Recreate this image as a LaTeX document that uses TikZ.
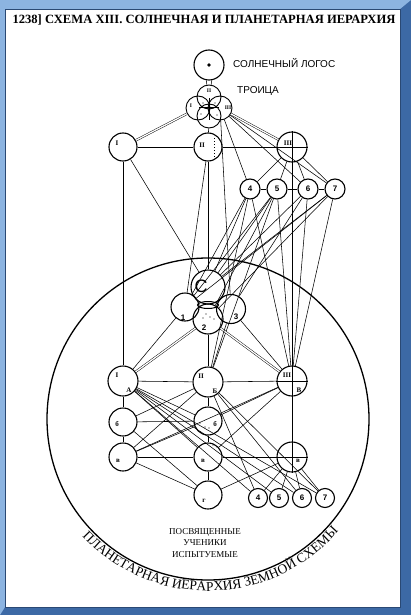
\documentclass[tikz,border=0pt]{standalone}
\usepackage{fontspec}
\setmainfont{Liberation Serif}
\setsansfont{Liberation Sans}
\usetikzlibrary{decorations.text}

\definecolor{ramadeschis}{RGB}{140,180,225}
\definecolor{ramainchis}{RGB}{60,105,165}

\tikzset{
  cerc/.style={circle,draw,line width=1.1pt,inner sep=0pt,minimum size=#1},
  leg/.style={line width=0.55pt},
  dublu/.style={double,double distance=1.3pt,line width=0.45pt},
  et/.style={font=\bfseries\fontsize{7}{8}\selectfont,inner sep=0pt},
  cif/.style={font=\sffamily\bfseries\fontsize{8}{9}\selectfont,inner sep=0pt}
}

\begin{document}
\begin{tikzpicture}[x=1pt,y=-1pt]
  \useasboundingbox (0,0) rectangle (411,615);

  % rama
  \fill[ramainchis] (0,0) rectangle (411,615);
  \fill[ramadeschis] (0,0) -- (411,0) -- (400,9) -- (5,9) -- (5,607) -- (0,615) -- cycle;
  \fill[white] (5,9) rectangle (400,607);
  \draw[ramainchis!70!black,line width=0.6pt] (5,9) rectangle (400,607);

  % titlu
  \node[font=\bfseries\fontsize{12.6}{14}\selectfont,inner sep=0pt] (titlu) at (204,20)
    {1238] СХЕМА XIII. СОЛНЕЧНАЯ И ПЛАНЕТАРНАЯ ИЕРАРХИЯ};

  % logosul si treimea
  \node[cerc=30pt] (L) at (209,65) {};
  \fill (L) circle (1.8);
  \node[font=\sffamily\fontsize{10}{11}\selectfont,anchor=west,inner sep=0pt] (Lt) at (233,63) {СОЛНЕЧНЫЙ ЛОГОС};
  \node[cerc=24pt,line width=0.9pt] (T2) at (209,97) {};
  \node[cerc=24pt,line width=0.9pt] (T1) at (198,108) {};
  \node[cerc=24pt,line width=0.9pt] (T3) at (220,108) {};
  \node[cerc=24pt,line width=0.9pt] (T4) at (209,116) {};
  \node[font=\sffamily\fontsize{10}{11}\selectfont,anchor=west,inner sep=0pt] (Tt) at (237,91) {ТРОИЦА};
  \node[et,font=\bfseries\fontsize{5.5}{6}\selectfont] (T2e) at (209,91) {II};
  \node[et,font=\bfseries\fontsize{5.5}{6}\selectfont] (T1e) at (191,106) {I};
  \node[et,font=\bfseries\fontsize{5.5}{6}\selectfont] (T3e) at (228,108) {III};
  \draw[leg] (199,107) -- (219,107);
  \draw[leg] (209,98) -- (209,120);
  \foreach \p in {(203,103),(215,103),(201,114),(217,115)}
    \fill \p circle (0.7);

  % primul rand
  \node[cerc=28pt] (I1) at (123,147) {};
  \node[cerc=28pt] (I2) at (208,147) {};
  \node[cerc=30pt] (I3) at (292,147) {};
  \node[et] (I1e) at (117,143) {I};
  \node[et] (I2e) at (202,145) {II};
  \node[et,fill=white] (I3e) at (288,143) {III};
  \draw[line width=1pt,dotted] (214,138) -- (214,158);
  \foreach \n/\x in {4/250,5/277,6/308,7/335}
    \node[cerc=20pt,cif] (s\n) at (\x,189) {\n};

  % grupul central
  \node[cerc=34pt] (C) at (208,287) {};
  \node[cerc=28pt] (c1) at (185,307) {};
  \node[cerc=30pt] (c2) at (208,319) {};
  \node[cerc=29pt] (c3) at (231,309) {};
  \draw[line width=1pt] (208,305) ellipse (10.5 and 3.5);
  \node[font=\sffamily\fontsize{18}{18}\selectfont,inner sep=0pt] (Ce) at (201,286) {C};
  \node[cif] (c1e) at (183,318) {1};
  \node[cif] (c2e) at (204,328) {2};
  \node[cif] (c3e) at (236,317) {3};
  \foreach \p in {(206,314),(210,317),(214,319),(203,318)}
    \fill \p circle (0.7);

  % ierarhia planetara
  \draw[line width=1.3pt] (208,419) circle (161);
  \node[cerc=30pt] (B1) at (123,381) {};
  \node[cerc=30pt] (B2) at (208,382) {};
  \node[cerc=30pt] (B3) at (292,381) {};
  \node[cerc=28pt] (b1) at (123,422) {};
  \node[cerc=28pt] (b2) at (208,421) {};
  \node[cerc=28pt] (v1) at (123,457) {};
  \node[cerc=28pt] (v2) at (208,457) {};
  \node[cerc=30pt] (v3) at (292,457) {};
  \node[cerc=28pt] (g) at (208,495) {};
  \foreach \n/\x in {4/258,5/279,6/302,7/325}
    \node[cerc=19pt,cif] (t\n) at (\x,498) {\n};
  \node[et] (B1e) at (117,375) {I};
  \node[et] (B1f) at (129,390) {А};
  \node[et] (B2e) at (201,376) {II};
  \node[et] (B2f) at (215,391) {Б};
  \node[et,fill=white] (B3e) at (287,375) {III};
  \node[et] (B3f) at (299,390) {В};
  \node[et] (b1e) at (117,424) {б};
  \node[et] (b2e) at (215,424) {б};
  \node[et] (v1e) at (118,461) {в};
  \node[et] (v2e) at (203,461) {в};
  \node[et] (v3e) at (298,461) {в};
  \node[et] (ge) at (204,501) {г};
  \foreach \p in {(200,423),(205,427),(209,428),(213,445),(217,447)}
    \fill \p circle (0.7);

  % cruci in cercuri
  \foreach \k in {I3,B3,v3}
    \draw[leg] (\k.north) -- (\k.south) (\k.west) -- (\k.east);

  % legaturi sus
  \draw[leg] (L.-100) -- (T2.100);
  \draw[leg] (L.-80) -- (T2.80);
  \draw[dublu] (T1) -- (I1);
  \draw[dublu] (T3) -- (I3);
  \foreach \a/\b in {T4/I2,T3/s4,T3/s6,T3/s7,T3/c3,I1/I2,I2/I3,
      I3/s4,I3/s5,I3/s6,I3/s7,s4/s5,s5/s6,s6/s7,I1/B1,I1/C,I2/c1,I2/C,I3/B3,
      s4/C,s4/c1,s4/B3,s4/B2,s5/C,s5/c1,s5/c2,s5/B3,s5/B2,
      s6/C,s6/c3,s6/B3,s7/C,s7/c1,s7/c2,s7/B3}
    \draw[leg] (\a) -- (\b);

  % legaturi jos
  \draw[dublu] (c2) -- (B1);
  \draw[dublu] (c2) -- (B3);
  \foreach \a/\b in {c1/B1,c2/B2,c3/B3,c3/B2,B1/B2,B2/B3,B1/b1,b1/v1,
      B2/b2,b2/v2,v2/g,B3/v3,b1/b2,v1/v2,v2/v3,
      B1/b2,B1/v2,B1/t4,B1/t5,B1/t6,B1/t7,B2/t4,B2/t6,B2/t7,
      b1/B2,v1/B2,v1/B3,v1/b2,b2/B3,v2/B3,g/v1,g/v3,g/b1,
      v3/t4,v3/t5,v3/t6,v3/t7}
    \draw[leg] (\a) -- (\b);

  % texte
  \node[align=center,font=\fontsize{9}{11.5}\selectfont,inner sep=0pt] (txt) at (205,543)
    {ПОСВЯЩЕННЫЕ\\УЧЕНИКИ\\ИСПЫТУЕМЫЕ};
  \path[decorate,decoration={text along path,text align=left,
      text={|\fontsize{13.5}{14}\selectfont|ПЛАНЕТАРНАЯ ИЕРАРХИЯ ЗЕМНОЙ СХЕМЫ}}]
    (208,419) ++(137:172) arc (137:38:172);
\end{tikzpicture}
\end{document}
